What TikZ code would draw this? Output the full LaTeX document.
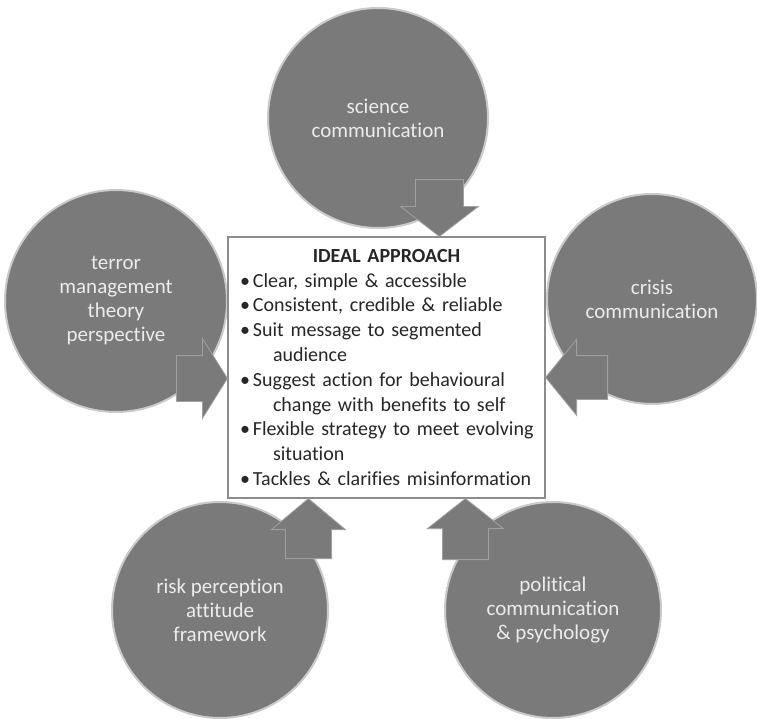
\documentclass[tikz,border=0pt]{standalone}
\usepackage{fontspec}
\setmainfont{Carlito}[Ligatures={NoCommon}]
\usetikzlibrary{calc}
\definecolor{circfill}{HTML}{7A7A7A}
\definecolor{circrim}{HTML}{CACACA}
\definecolor{circtext}{HTML}{ECECEC}
\definecolor{boxtext}{HTML}{262626}
\definecolor{boxline}{HTML}{8C8C8C}
\definecolor{arrowedge}{HTML}{A0A0A0}
\newcommand\bitem[1]{\par\noindent\hangindent=45pt\hangafter=1\hbox to 25pt{\hspace{12pt}\textbullet\hfil}#1\par}
\newcommand\brk{\hfil\break}
\tikzset{
  topic/.style={circle, fill=circfill, draw=circrim, line width=2pt, inner sep=0pt,
    text=circtext, align=center, font=\fontsize{21}{24}\selectfont},
  ideal/.style={rectangle, draw=boxline, line width=1.2pt, fill=white, inner xsep=0pt,
    inner ysep=0pt, text width=317pt, minimum height=261pt, text=boxtext,
    font=\fontsize{20}{24.8}\selectfont},
  blockarrow/.style={fill=circfill, draw=arrowedge, line width=0.8pt, line join=miter},
}
\begin{document}
\begin{tikzpicture}[x=1pt,y=-1pt]
\useasboundingbox (0,0) rectangle (757,718);
% topic circles
\node[topic, minimum size=220pt] (sci) at (378,118) {science\\communication};
\node[topic, minimum size=222pt] (tmt) at (116,301) {terror\\management\\theory\\perspective};
\node[topic, minimum size=210pt] (cri) at (652,299) {crisis\\communication};
\node[topic, minimum size=216pt] (rpa) at (220,610) {risk perception\\attitude\\framework};
\node[topic, minimum size=216pt] (pol) at (553,610) {political\\communication\\\& psychology};
% central box
\node[ideal] (ideal) at (386.5,367.5) {\setlength{\parskip}{0pt}\raggedright
{\centering\textbf{IDEAL APPROACH}\par}
\bitem{Clear, simple \& accessible}
\bitem{Consistent, credible \& reliable}
\bitem{Suit message to segmented\brk audience}
\bitem{Suggest action for behavioural\brk change with benefits to self}
\bitem{Flexible strategy to meet evolving\brk situation}
\bitem{Tackles \& clarifies misinformation}};
% arrow tips on the box border
\coordinate (tipN) at ($(ideal.north west)+(212,0)$);
\coordinate (tipW) at ($(ideal.north west)+(0,142)$);
\coordinate (tipE) at ($(ideal.north east)+(0,141)$);
\coordinate (tipSW) at ($(ideal.south west)+(81,0)$);
\coordinate (tipSE) at ($(ideal.south west)+(238,0)$);
% block arrows
\draw[blockarrow] (tipN) -- ++(39,-30) -- ++(-15,0) -- ++(0,-27) -- ++(-48,0) -- ++(0,27) -- ++(-15,0) -- cycle;
\draw[blockarrow] (tipW) -- ++(-25,-40) -- ++(0,17) -- ++(-26,0) -- ++(0,46) -- ++(26,0) -- ++(0,17) -- cycle;
\draw[blockarrow] (tipE) -- ++(31,-38) -- ++(0,16) -- ++(31,0) -- ++(0,44) -- ++(-31,0) -- ++(0,16) -- cycle;
\draw[blockarrow] (tipSW) -- ++(37,31) -- ++(-14,0) -- ++(0,29) -- ++(-46,0) -- ++(0,-29) -- ++(-14,0) -- cycle;
\draw[blockarrow] (tipSE) -- ++(38,30) -- ++(-15,0) -- ++(0,31) -- ++(-46,0) -- ++(0,-31) -- ++(-15,0) -- cycle;
\end{tikzpicture}
\end{document}
